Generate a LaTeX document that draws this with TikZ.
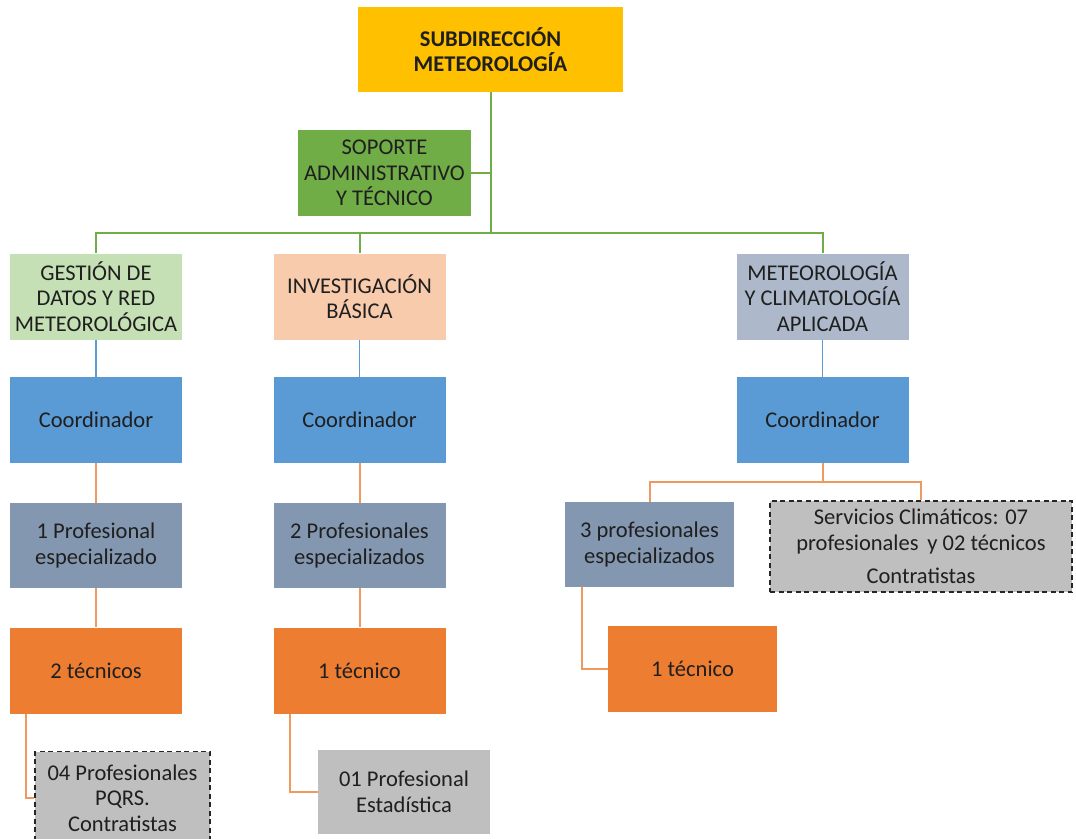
\documentclass[tikz,border=0pt]{standalone}
\usepackage{fontspec}
\setmainfont{Carlito}
\usetikzlibrary{positioning,calc}
\definecolor{amber}{HTML}{FFC000}
\definecolor{leaf}{HTML}{70AD47}
\definecolor{mint}{HTML}{C5E0B4}
\definecolor{peach}{HTML}{F8CBAD}
\definecolor{mist}{HTML}{ADB9CA}
\definecolor{sky}{HTML}{5B9BD5}
\definecolor{slate}{HTML}{8497B0}
\definecolor{tangerine}{HTML}{ED7D31}
\definecolor{apricot}{HTML}{EE9A5E}
\definecolor{silver}{HTML}{BFBFBF}
\newcommand\orgfont{\fontsize{22.5}{25.5}\selectfont}

\begin{document}
\begin{tikzpicture}[x=1pt, y=-1pt,
  unit/.style={inner sep=0pt, align=center, font=\orgfont, text=black!88, minimum width=172pt, minimum height=86pt},
  contract/.style={unit, fill=silver, draw=black!85, line width=1.6pt, dash pattern=on 5pt off 3.5pt},
  gline/.style={draw=leaf, line width=2pt},
  bline/.style={draw=sky, line width=1.6pt},
  oline/.style={draw=apricot, line width=2pt}]
\useasboundingbox (0,0) rectangle (1076,838);

% direction and support
\node[unit, fill=amber, minimum width=265pt, minimum height=85pt, font=\orgfont\bfseries] (sub) at (490.5,49.5) {SUBDIRECCIÓN\\METEOROLOGÍA};
\node[unit, fill=leaf, minimum width=173pt] (soporte) at (384.5,173) {SOPORTE\\ADMINISTRATIVO\\Y TÉCNICO};

% areas
\node[unit, fill=mint] (gestion) at (96,296.5) {GESTIÓN DE\\DATOS Y RED\\METEOROLÓGICA};
\node[unit, fill=peach] (invest) at (359.5,296.5) {INVESTIGACIÓN\\BÁSICA};
\node[unit, fill=mist] (aplicada) at (822.5,296.5) {METEOROLOGÍA\\Y CLIMATOLOGÍA\\APLICADA};

% coordinators
\node[unit, fill=sky] (coordA) at (96,420) {Coordinador};
\node[unit, fill=sky] (coordB) at (359.5,420) {Coordinador};
\node[unit, fill=sky] (coordC) at (822.5,420) {Coordinador};

% professionals
\node[unit, fill=slate, minimum height=85pt] (profA) at (96,545.5) {1 Profesional\\especializado};
\node[unit, fill=slate, minimum height=85pt] (profB) at (359.5,545.5) {2 Profesionales\\especializados};
\node[unit, fill=slate, minimum width=169pt, minimum height=85pt] (profC) at (649.5,544.5) {3 profesionales\\especializados};
\node[contract, minimum width=302pt, minimum height=91pt] (servicios) at (921,546.5) {Servicios Climáticos: 07\\profesionales\, y 02 técnicos\\[8pt]Contratistas};

% technicians
\node[unit, fill=tangerine] (tecA) at (96,670.5) {2 técnicos};
\node[unit, fill=tangerine] (tecB) at (359.5,670.5) {1 técnico};
\node[unit, fill=tangerine, minimum width=169pt] (tecC) at (692.5,669) {1 técnico};

% extra staff
\node[contract, minimum width=175pt, minimum height=93pt] (pqrs) at (122.5,798) {04 Profesionales\\PQRS.\\Contratistas};
\node[unit, fill=silver, minimum height=84pt] (estad) at (404,792) {01 Profesional\\Estadística};

% connectors
\coordinate (bus) at (0,233);
\coordinate (busC) at (0,482);
\draw[gline] (sub.south) -- (sub.south |- bus);
\draw[gline] (soporte.east) -- (soporte.east -| sub.south);
\draw[gline] (gestion.north) -- (gestion.north |- bus) -| (aplicada.north);
\draw[gline] (invest.north) -- (invest.north |- bus);
\draw[bline] (gestion) -- (coordA);
\draw[bline] (invest) -- (coordB);
\draw[bline] (aplicada) -- (coordC);
\draw[oline] (coordA) -- (profA);
\draw[oline] (coordB) -- (profB);
\draw[oline] (profA) -- (tecA);
\draw[oline] (profB) -- (tecB);
\draw[oline] (coordC.south) -- (coordC.south |- busC);
\draw[oline] (profC.north) -- (profC.north |- busC) -| (servicios.north);
\draw[oline] ([xshift=16pt]tecA.south west) |- (pqrs.west);
\draw[oline] ([xshift=17pt]tecB.south west) |- (estad.west);
\draw[oline] ([xshift=17pt]profC.south west) |- (tecC.west);
\end{tikzpicture}
\end{document}
